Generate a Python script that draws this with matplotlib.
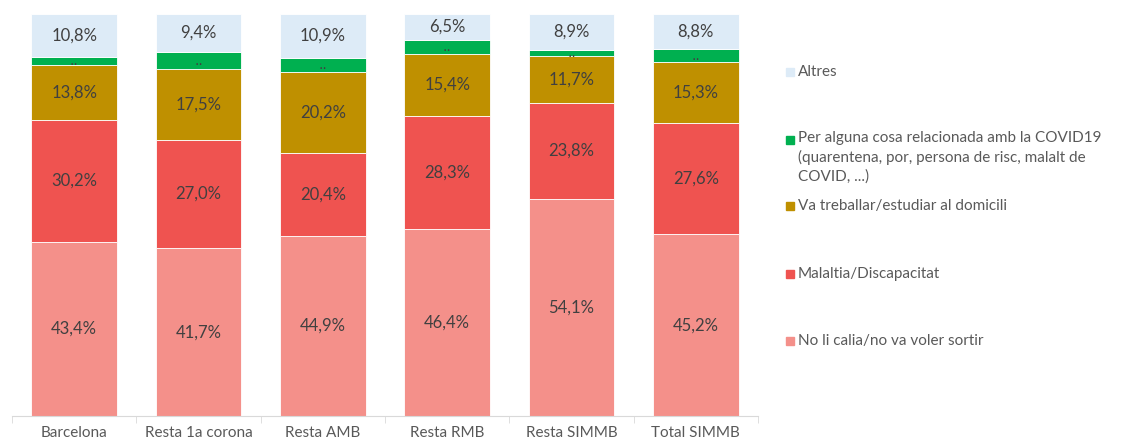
import numpy as np
import matplotlib
matplotlib.use('Agg')
import matplotlib.pyplot as plt
from matplotlib.patches import Rectangle

# Dades (percentatges)
categories = ['Barcelona', 'Resta 1a corona', 'Resta AMB', 'Resta RMB', 'Resta SIMMB', 'Total SIMMB']
no_calia = [43.4, 41.7, 44.9, 46.4, 54.1, 45.2]
malaltia = [30.2, 27.0, 20.4, 28.3, 23.8, 27.6]
treballar = [13.8, 17.5, 20.2, 15.4, 11.7, 15.3]
covid = [1.8, 4.4, 3.6, 3.4, 1.5, 3.1]
altres = [10.8, 9.4, 10.9, 6.5, 8.9, 8.8]

series_names = ['No li calia/no va voler sortir', 'Malaltia/Discapacitat',
                'Va treballar/estudiar al domicili',
                'Per alguna cosa relacionada amb la COVID19\n(quarentena, por, persona de risc, malalt de\nCOVID, ...)',
                'Altres']
series = [no_calia, malaltia, treballar, covid, altres]
colors = ['#F4908A', '#EF5350', '#BF9000', '#00B050', '#DDEBF7']
text_col = '#595959'

plt.rcParams['font.family'] = ['Lato', 'DejaVu Sans']

fig = plt.figure(figsize=(11.25, 4.41), dpi=100)
W, H = 1125, 441
ax = fig.add_axes([12 / W, (H - 416) / H, (758 - 12) / W, (416 - 14) / H])

x = np.arange(len(categories))
bottom = np.zeros(len(categories))
for vals, col in zip(series, colors):
    vals = np.array(vals)
    ax.bar(x, vals, bottom=bottom, width=0.69, color=col, edgecolor='white', linewidth=0.6)
    for xi, b, v in zip(x, bottom, vals):
        if col == '#00B050':
            # valors no significatius
            ax.text(xi, b + v / 2, '..', ha='center', va='center', fontsize=10,
                    color='#404040', family='DejaVu Sans')
        else:
            ax.text(xi, b + v / 2, f'{v:.1f}%'.replace('.', ','), ha='center', va='center',
                    fontsize=12, color='#404040')
    bottom += vals

ax.set_xlim(-0.5, len(categories) - 0.5)
ax.set_ylim(0, 100)
ax.set_yticks([])
for s in ['top', 'right', 'left']:
    ax.spines[s].set_visible(False)
ax.spines['bottom'].set_color('#D9D9D9')
ax.set_xticks(x)
ax.set_xticklabels(categories, fontsize=11, color=text_col)
ax.tick_params(axis='x', length=0, pad=7)
ax.set_xticks(np.arange(len(categories) + 1) - 0.5, minor=True)
ax.tick_params(axis='x', which='minor', length=5, color='#D9D9D9')

# Llegenda manual
legend_y = [341, 274, 206, 140, 72]
for name, col, ly in zip(series_names, colors, legend_y):
    fig.patches.append(Rectangle((786 / W, (H - ly - 4) / H), 8 / W, 8 / H,
                                 transform=fig.transFigure, color=col, figure=fig))
    if '\n' in name:
        fig.text(798 / W, (H - ly + 9) / H, name, ha='left', va='top',
                 fontsize=11, color=text_col, linespacing=1.4)
    else:
        fig.text(798 / W, (H - ly) / H, name, ha='left', va='center',
                 fontsize=11, color=text_col)

fig.savefig('out.png', dpi=100)
